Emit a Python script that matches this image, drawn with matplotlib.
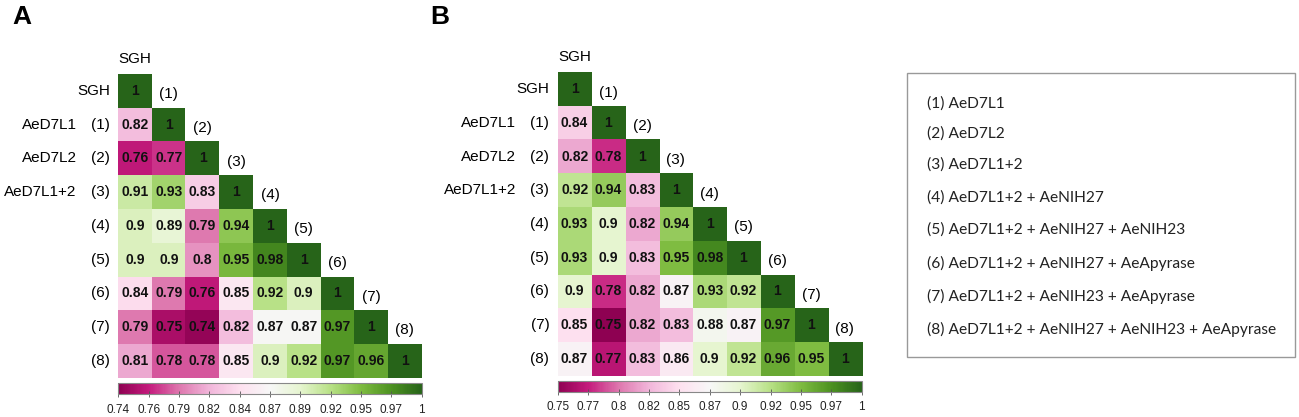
import matplotlib
matplotlib.use("Agg")
import matplotlib.pyplot as plt
import numpy as np
from matplotlib.patches import Rectangle

plt.rcParams['font.family'] = ['Liberation Sans', 'DejaVu Sans']

# labels
row_names = ["SGH", "AeD7L1", "AeD7L2", "AeD7L1+2", "", "", "", "", ""]
row_codes = ["SGH", "(1)", "(2)", "(3)", "(4)", "(5)", "(6)", "(7)", "(8)"]

# lower triangles, row by row (SGH, 1..8)
corr_a = [
    [1],
    [0.82, 1],
    [0.76, 0.77, 1],
    [0.91, 0.93, 0.83, 1],
    [0.9, 0.89, 0.79, 0.94, 1],
    [0.9, 0.9, 0.8, 0.95, 0.98, 1],
    [0.84, 0.79, 0.76, 0.85, 0.92, 0.9, 1],
    [0.79, 0.75, 0.74, 0.82, 0.87, 0.87, 0.97, 1],
    [0.81, 0.78, 0.78, 0.85, 0.9, 0.92, 0.97, 0.96, 1],
]
corr_b = [
    [1],
    [0.84, 1],
    [0.82, 0.78, 1],
    [0.92, 0.94, 0.83, 1],
    [0.93, 0.9, 0.82, 0.94, 1],
    [0.93, 0.9, 0.83, 0.95, 0.98, 1],
    [0.9, 0.78, 0.82, 0.87, 0.93, 0.92, 1],
    [0.85, 0.75, 0.82, 0.83, 0.88, 0.87, 0.97, 1],
    [0.87, 0.77, 0.83, 0.86, 0.9, 0.92, 0.96, 0.95, 1],
]

range_a = (0.736, 1.0)
range_b = (0.75, 1.0)
cbar_labels_a = ["0.74", "0.76", "0.79", "0.82", "0.84", "0.87", "0.89", "0.92", "0.95", "0.97", "1"]
cbar_labels_b = ["0.75", "0.77", "0.8", "0.82", "0.85", "0.87", "0.9", "0.92", "0.95", "0.97", "1"]

legend_lines = [
    "(1) AeD7L1",
    "(2) AeD7L2",
    "(3) AeD7L1+2",
    "(4) AeD7L1+2 + AeNIH27",
    "(5) AeD7L1+2 + AeNIH27 + AeNIH23",
    "(6) AeD7L1+2 + AeNIH27 + AeApyrase",
    "(7) AeD7L1+2 + AeNIH23 + AeApyrase",
    "(8) AeD7L1+2 + AeNIH27 + AeNIH23 + AeApyrase",
]

W, H = 1299, 417
fig = plt.figure(figsize=(W / 100, H / 100), dpi=100)


def px_axes(x0, y0, x1, y1):
    # pixel box (top-left origin) -> figure axes
    return fig.add_axes([x0 / W, 1 - y1 / H, (x1 - x0) / W, (y1 - y0) / H])


def draw_panel(tri, vrange, cb_labels, box, cb_box, letter, letter_xy):
    n = len(tri)
    mat = np.full((n, n), np.nan)
    for i, row in enumerate(tri):
        mat[i, :len(row)] = row
    mat = np.ma.masked_invalid(mat)

    ax = px_axes(*box)
    im = ax.imshow(mat, cmap="PiYG", vmin=vrange[0], vmax=vrange[1],
                   interpolation="none", aspect="auto")
    ax.set_xlim(-0.5, n - 0.5)
    ax.set_ylim(n - 0.5, -0.5)
    ax.axis("off")

    for i, row in enumerate(tri):
        for j, v in enumerate(row):
            ax.text(j, i, "{:g}".format(v), ha="center", va="center",
                    fontsize=10, fontweight="bold", color="#111111")

    # row labels
    for i in range(n):
        ax.text(-0.75, i, row_codes[i], ha="right", va="center", fontsize=11,
                clip_on=False)
        if row_names[i] and i > 0:
            ax.text(-1.73, i, row_names[i], ha="right", va="center",
                    fontsize=11, clip_on=False)
    # top label and diagonal labels
    ax.text(0, -0.95, "SGH", ha="center", va="center", fontsize=11, clip_on=False)
    for i in range(1, n):
        ax.text(i, i - 0.9, row_codes[i], ha="center", va="center",
                fontsize=11, clip_on=False)

    cax = px_axes(*cb_box)
    cb = fig.colorbar(im, cax=cax, orientation="horizontal")
    ticks = np.linspace(vrange[0], vrange[1], len(cb_labels))
    cb.set_ticks(ticks)
    cb.set_ticklabels(cb_labels)
    cb.outline.set_edgecolor("#888888")
    cb.outline.set_linewidth(0.8)
    cax.tick_params(axis="x", direction="inout", length=4, width=0.6,
                    color="#555555", labelsize=8.5, labelcolor="#222222", pad=5)

    fig.text(letter_xy[0] / W, 1 - letter_xy[1] / H, letter, fontsize=19,
             fontweight="bold", ha="left", va="top")


draw_panel(corr_a, range_a, cbar_labels_a,
           (118.3, 74.0, 421.7, 377.7), (118.3, 382.7, 421.7, 394.0), "A", (12, 5))
draw_panel(corr_b, range_b, cbar_labels_b,
           (557.7, 72.3, 861.7, 375.7), (557.7, 381.0, 861.7, 391.7), "B", (430, 5))

# legend box
fig.patches.append(Rectangle((907.3 / W, 1 - 356.7 / H), (1295 - 907.3) / W,
                             (356.7 - 73.3) / H, transform=fig.transFigure,
                             fill=False, edgecolor="#999999", linewidth=1))
y_lines = [103.3, 134.0, 165.0, 197.3, 230.0, 263.0, 296.5, 329.5]
for y, line in zip(y_lines, legend_lines):
    fig.text(927.3 / W, 1 - y / H, line, ha="left", va="center", fontsize=11.2,
             family=["Lato", "DejaVu Sans"], color="#222222")

fig.savefig("out.png", dpi=100)
